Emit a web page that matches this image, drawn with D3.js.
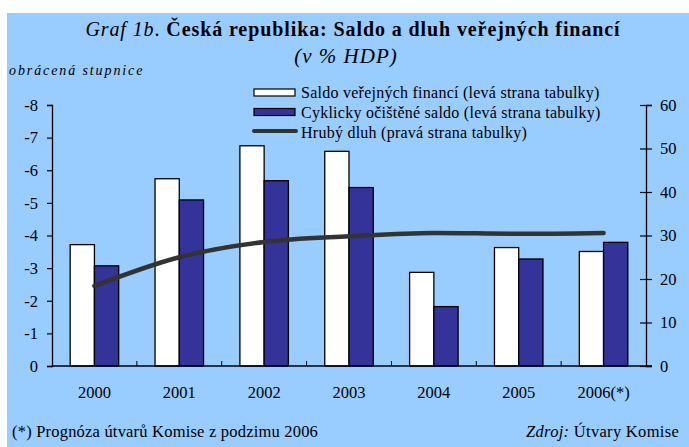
<!DOCTYPE html>
<html><head><meta charset="utf-8">
<script src="https://cdn.jsdelivr.net/npm/d3@7"></script>
<style>
body{margin:0;background:#fff;}
text{font-family:"Liberation Serif","Times New Roman",serif;}
</style></head>
<body><svg id="c" width="689" height="447"></svg>
<script>
const categories = ["2000","2001","2002","2003","2004","2005","2006(*)"];
const saldo = [-3.72, -5.74, -6.75, -6.58, -2.87, -3.63, -3.51];
const cyklicky = [-3.07, -5.09, -5.68, -5.47, -1.82, -3.28, -3.79];
const dluh = [18.4, 25.0, 28.5, 29.8, 30.6, 30.4, 30.6];
const leftTicks = [0, -1, -2, -3, -4, -5, -6, -7, -8];
const rightTicks = [0, 10, 20, 30, 40, 50, 60];
const seriesNames = ["Saldo veřejných financí (levá strana tabulky)",
  "Cyklicky očištěné saldo (levá strana tabulky)",
  "Hrubý dluh (pravá strana tabulky)"];

const svg = d3.select("#c");
svg.append("rect").attr("x",7).attr("y",13).attr("width",682).attr("height",434).attr("fill","#99ccff");

const L = 52, R = 646, T = 105, B = 366;
const x = d3.scaleBand().domain(categories).range([L, R]);
const yL = d3.scaleLinear().domain([0, -8]).range([B, T]);
const yR = d3.scaleLinear().domain([0, 60]).range([B, T]);
const inner = d3.scaleBand().domain(["s","c"]).range([0, x.bandwidth()]).paddingInner(0).paddingOuter(0.75);

// title
const t = svg.append("text").attr("x",353).attr("y",36).attr("text-anchor","middle").attr("font-size",20).attr("letter-spacing",0.9);
t.append("tspan").attr("font-style","italic").text("Graf 1b");
t.append("tspan").text(". ");
t.append("tspan").attr("font-weight","bold").text("Česká republika: Saldo a dluh veřejných financí");
svg.append("text").attr("x",346).attr("y",63).attr("text-anchor","middle").attr("font-size",21).attr("letter-spacing",1).attr("font-style","italic").text("(v % HDP)");
svg.append("text").attr("x",9).attr("y",75).attr("font-size",14).attr("font-style","italic").attr("letter-spacing",1.9).text("obrácená stupnice");

// bars
const g = svg.append("g");
categories.forEach((c,i)=>{
  g.append("rect").attr("x",x(c)+inner("s")).attr("width",inner.bandwidth())
    .attr("y",yL(saldo[i])).attr("height",yL(0)-yL(saldo[i]))
    .attr("fill","#ffffff").attr("stroke","#000").attr("stroke-width",1.3);
  g.append("rect").attr("x",x(c)+inner("c")).attr("width",inner.bandwidth())
    .attr("y",yL(cyklicky[i])).attr("height",yL(0)-yL(cyklicky[i]))
    .attr("fill","#333399").attr("stroke","#000").attr("stroke-width",1.3);
});

// line
const line = d3.line().x((d,i)=>x(categories[i])+x.bandwidth()/2).y(d=>yR(d)).curve(d3.curveMonotoneX);
svg.append("path").datum(dluh).attr("d",line).attr("fill","none").attr("stroke","#333333").attr("stroke-width",4.5).attr("stroke-linecap","round");

// axes
const axL = svg.append("g").attr("transform",`translate(${L},0)`)
  .call(d3.axisLeft(yL).tickValues(leftTicks).tickFormat(d=>String(d)).tickSize(5).tickPadding(9));
const axR = svg.append("g").attr("transform",`translate(${R},0)`)
  .call(d3.axisRight(yR).tickValues(rightTicks).tickSize(6).tickPadding(8));
axR.selectAll(".tick line").attr("x1",-6);
const axX = svg.append("g").attr("transform",`translate(0,${B})`)
  .call(d3.axisBottom(x).tickSize(0).tickPadding(20));
[axL,axR,axX].forEach(a=>{
  a.select(".domain").attr("stroke","#000").attr("stroke-width",1.3);
  a.selectAll(".tick line").attr("stroke","#000").attr("stroke-width",1.2);
  a.selectAll("text").attr("font-size",16.5).attr("fill","#000").attr("font-family","Liberation Serif, serif");
});
axX.select(".domain").attr("d",`M${L},0H${R+6}`);
// category separators
svg.append("g").selectAll("line").data(categories.slice(1)).join("line")
  .attr("x1",d=>x(d)).attr("x2",d=>x(d)).attr("y1",B).attr("y2",B-5).attr("stroke","#000").attr("stroke-width",1);

// legend
const lg = svg.append("g");
[0,1].forEach(i=>{
  lg.append("rect").attr("x",254).attr("y",89+i*19.5).attr("width",41).attr("height",7)
    .attr("fill",i==0?"#fff":"#333399").attr("stroke","#000").attr("stroke-width",1.2);
});
lg.append("line").attr("x1",254).attr("x2",296).attr("y1",131).attr("y2",131).attr("stroke","#333").attr("stroke-width",4).attr("stroke-linecap","round");
seriesNames.forEach((s,i)=>{
  lg.append("text").attr("x",301).attr("y",98+i*20).attr("font-size",16).attr("letter-spacing",0.25).attr("fill","#000").text(s);
});

// footer
svg.append("text").attr("x",12).attr("y",437).attr("font-size",16.5).attr("letter-spacing",0.2).text("(*) Prognóza útvarů Komise z podzimu 2006");
const f = svg.append("text").attr("x",679).attr("y",437).attr("font-size",16.5).attr("letter-spacing",0.3).attr("text-anchor","end");
f.append("tspan").attr("font-style","italic").text("Zdroj: ");
f.append("tspan").text("Útvary Komise");
</script></body></html>
